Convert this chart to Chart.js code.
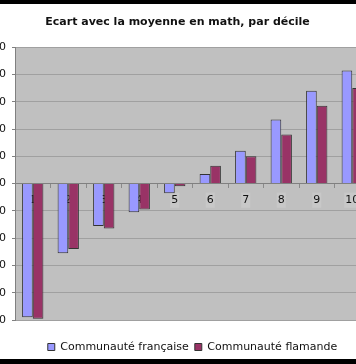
<!DOCTYPE html>
<html>
<head>
<meta charset="utf-8">
<script src="https://cdn.jsdelivr.net/npm/chart.js@4/dist/chart.umd.min.js"></script>
<style>
  html, body { margin: 0; padding: 0; background: #fff; width: 356px; height: 364px; overflow: hidden; position: relative; }
  #c { position: absolute; left: -40px; top: 0; }
  .band { position: absolute; left: 0; width: 356px; background: #000; }
</style>
</head>
<body>
<canvas id="c" width="435" height="364"></canvas>
<div class="band" style="top:0;height:4px"></div>
<div class="band" style="top:359px;height:5px"></div>
<script>
const titleText = 'Ecart avec la moyenne en math, par décile';
const deciles = ['1', '2', '3', '4', '5', '6', '7', '8', '9', '10'];
const seriesNames = ['Communauté française', 'Communauté flamande'];
const francaise = [-98, -51, -31, -21, -7, 7, 24, 47, 68, 83];
const flamande = [-99, -48, -33, -19, -2, 13, 20, 36, 57, 70];
const yTicks = [-100, -80, -60, -40, -20, 0, 20, 40, 60, 80, 100];

const plotBg = {
  id: 'plotBg',
  beforeDraw(chart) {
    const a = chart.chartArea, ctx = chart.ctx;
    ctx.save();
    ctx.fillStyle = '#c0c0c0';
    ctx.fillRect(a.left, a.top, a.right - a.left, a.bottom - a.top);
    ctx.restore();
  }
};

new Chart(document.getElementById('c'), {
  type: 'bar',
  data: {
    labels: deciles,
    datasets: [
      { label: seriesNames[0], data: francaise, backgroundColor: '#9999ff', borderColor: '#333333', borderWidth: 1 },
      { label: seriesNames[1], data: flamande, backgroundColor: '#993366', borderColor: '#333333', borderWidth: 1 }
    ]
  },
  options: {
    responsive: false,
    animation: false,
    devicePixelRatio: 1,
    layout: { padding: { left: 25, right: 25, top: 0, bottom: 1.5 } },
    datasets: { bar: { categoryPercentage: 0.6, barPercentage: 1.0 } },
    plugins: {
      title: {
        display: true, text: titleText, color: '#111',
        font: { family: 'DejaVu Sans', size: 11, weight: 'bold' },
        padding: { top: 16, bottom: 18 }
      },
      legend: {
        position: 'bottom', fullSize: false,
        title: { display: true, text: '', font: { size: 10 }, padding: { top: 3.5, bottom: 0 } },
        labels: { boxWidth: 7, boxHeight: 7, padding: 6, color: '#111',
          font: { family: 'DejaVu Sans', size: 11 } }
      },
      tooltip: { enabled: false }
    },
    scales: {
      y: {
        min: -100, max: 100,
        afterBuildTicks(s) { s.ticks = yTicks.map(v => ({ value: v })); },
        afterFit(s) { s.width = 30; },
        grid: { color: '#a0a0a0', tickLength: 3, tickColor: '#808080' },
        border: { color: '#808080' },
        ticks: { padding: 6, color: '#111', font: { family: 'DejaVu Sans', size: 11 } }
      },
      x: {
        position: { y: 0 },
        z: 1,
        grid: { drawOnChartArea: false, drawTicks: true, tickLength: 4, color: '#8a8a8a' },
        border: { color: '#808080' },
        ticks: {
          padding: 6, color: '#111', font: { family: 'DejaVu Sans', size: 11 },
          showLabelBackdrop: true, backdropColor: '#c8c8c8',
          backdropPadding: { top: 1, bottom: 1, left: 1, right: 1 }
        }
      }
    }
  },
  plugins: [plotBg]
});
</script>
</body>
</html>
